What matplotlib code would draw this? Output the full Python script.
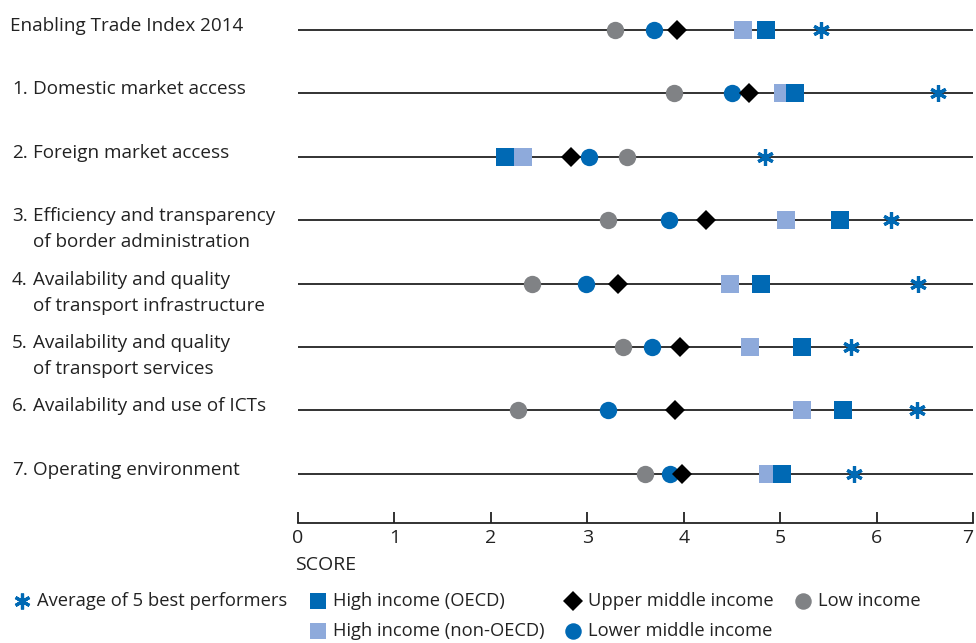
import matplotlib
matplotlib.use("Agg")
import matplotlib.pyplot as plt
from matplotlib.lines import Line2D
from matplotlib.transforms import blended_transform_factory, offset_copy

plt.rcParams['font.family'] = ['Open Sans', 'DejaVu Sans']

# Pillar labels (number, first line, optional second line)
numbers = ["", "1.", "2.", "3.", "4.", "5.", "6.", "7."]
labels = [
    ["Enabling Trade Index 2014"],
    ["Domestic market access"],
    ["Foreign market access"],
    ["Efficiency and transparency", "of border administration"],
    ["Availability and quality", "of transport infrastructure"],
    ["Availability and quality", "of transport services"],
    ["Availability and use of ICTs"],
    ["Operating environment"],
]

# Scores by income group, one value per row above
low_income    = [3.29, 3.90, 3.41, 3.21, 2.43, 3.37, 2.28, 3.60]
high_non_oecd = [4.61, 5.03, 2.33, 5.06, 4.48, 4.69, 5.23, 4.87]
high_oecd     = [4.85, 5.15, 2.15, 5.62, 4.80, 5.23, 5.65, 5.02]
lower_middle  = [3.69, 4.50, 3.02, 3.85, 2.99, 3.67, 3.21, 3.86]
upper_middle  = [3.93, 4.68, 2.83, 4.23, 3.32, 3.96, 3.91, 3.98]
best_five     = [5.42, 6.64, 4.84, 6.15, 6.43, 5.74, 6.42, 5.77]

x_ticks = [0, 1, 2, 3, 4, 5, 6, 7]
x_label = "SCORE"

DARK_BLUE = "#0069b4"
LIGHT_BLUE = "#8eaadb"
GRAY = "#808285"
BLACK = "#000000"
TEXT = "#222222"

STAR = (6, 2, 0)

series = [
    # name, values, marker, color, size, edge width, legend col, legend row
    ("Low income", low_income, "o", GRAY, 12.5, 0, 3, 0),
    ("High income (non-OECD)", high_non_oecd, "s", LIGHT_BLUE, 12.5, 0, 1, 1),
    ("High income (OECD)", high_oecd, "s", DARK_BLUE, 12.5, 0, 1, 0),
    ("Lower middle income", lower_middle, "o", DARK_BLUE, 12.5, 0, 2, 1),
    ("Upper middle income", upper_middle, "D", BLACK, 10.5, 0, 2, 0),
    ("Average of 5 best performers", best_five, STAR, DARK_BLUE, 12, 2.3, 0, 0),
]

W, H = 976, 643
fig = plt.figure(figsize=(W / 100, H / 100), dpi=100)
ax = fig.add_axes([298 / W, 1 - 522.5 / H, 675 / W, 522.5 / H])

rows = list(range(len(labels)))
ax.hlines(rows, 0, 7, color=TEXT, lw=1.3, zorder=1)

for name, vals, mk, col, ms, mew, _, _ in series:
    ax.plot(vals, rows, linestyle="none", marker=mk, ms=ms, color=col,
            mfc=col, mec=col, mew=mew, zorder=3, clip_on=False)

ax.set_xlim(0, 7)
ax.set_ylim(7.77, -0.474)
ax.set_xticks(x_ticks)
ax.set_xticklabels([str(t) for t in x_ticks], fontsize=14, color=TEXT)
# keep the last tick label inside the figure edge
ax.get_xticklabels()[-1].set_horizontalalignment("right")
ax.set_yticks([])
for s in ("top", "left", "right"):
    ax.spines[s].set_visible(False)
ax.spines["bottom"].set_linewidth(1.3)
ax.spines["bottom"].set_color(TEXT)
ax.tick_params(axis="x", direction="in", length=8, width=1.3,
               color=TEXT, pad=5)
ax.patch.set_visible(False)

fig.text(295 / W, 1 - 570 / H, x_label, fontsize=14, color=TEXT,
         ha="left", va="baseline")

# Row labels on the left, first baseline sitting on the row line
tr = blended_transform_factory(fig.transFigure, ax.transData)
for r, (num, lines) in enumerate(zip(numbers, labels)):
    if num:
        ax.text(12 / W, r, num, fontsize=13.6, color=TEXT, ha="left",
                va="baseline", clip_on=False,
                transform=offset_copy(tr, fig=fig, y=-1, units="dots"))
        xt = 33 / W
    else:
        xt = 10 / W
    for i, line in enumerate(lines):
        ax.text(xt, r, line, fontsize=13.6, color=TEXT, ha="left",
                va="baseline", clip_on=False,
                transform=offset_copy(tr, fig=fig, y=-1 - 26 * i,
                                      units="dots"))

# Legend laid out in a grid below the axis
col_x = [22, 318, 573, 803]
row_y = [601, 631]
for name, vals, mk, col, ms, mew, lc, lr in series:
    x = col_x[lc] / W
    y = 1 - row_y[lr] / H
    fig.add_artist(Line2D([x], [y], marker=mk, ms=ms * 0.95, color=col,
                          mfc=col, mec=col, mew=mew, linestyle="none",
                          transform=fig.transFigure))
    fig.text(x + 15 / W, y, name, fontsize=13.2, color=TEXT,
             ha="left", va="center")

fig.savefig("out.png", dpi=100)
